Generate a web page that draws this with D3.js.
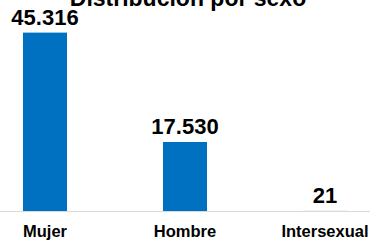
<!DOCTYPE html>
<html>
<head>
<meta charset="utf-8">
<script src="https://cdn.jsdelivr.net/npm/d3@7"></script>
<style>
  body { margin: 0; background: #fff; }
  text { font-family: "Liberation Sans", Arial, sans-serif; font-weight: bold; fill: #000; }
</style>
</head>
<body>
<svg id="chart" width="370" height="242"></svg>
<script>
// data
var categories = ["Mujer", "Hombre", "Intersexual"];
var values = [45316, 17530, 21];
var valueLabels = ["45.316", "17.530", "21"];
var title = "Distribución por sexo";

var svg = d3.select("#chart");
var baseY = 211;

var x = d3.scaleBand()
    .domain(categories)
    .range([-25, 395])
    .paddingInner(0.6857)
    .paddingOuter(0.3429);

var y = d3.scaleLinear()
    .domain([0, 53600])
    .range([baseY, 0]);

// title (partly cut off at top)
svg.append("text")
    .attr("x", 188)
    .attr("y", 6)
    .attr("text-anchor", "middle")
    .style("font-size", "23px")
    .text(title);

// bars
svg.selectAll("rect.bar")
    .data(values)
    .enter()
    .append("rect")
    .attr("class", "bar")
    .attr("x", function (d, i) { return x(categories[i]); })
    .attr("y", function (d) { return y(d); })
    .attr("width", x.bandwidth())
    .attr("height", function (d) { return baseY - y(d); })
    .attr("fill", "#0070C0");

// value labels
svg.selectAll("text.val")
    .data(values)
    .enter()
    .append("text")
    .attr("class", "val")
    .attr("x", function (d, i) { return x(categories[i]) + x.bandwidth() / 2; })
    .attr("y", function (d) { return y(d) - 8; })
    .attr("text-anchor", "middle")
    .style("font-size", "22px")
    .text(function (d, i) { return valueLabels[i]; });

// baseline
svg.append("line")
    .attr("x1", 0)
    .attr("x2", 370)
    .attr("y1", baseY + 0.5)
    .attr("y2", baseY + 0.5)
    .attr("stroke", "#d9d9d9")
    .attr("stroke-width", 1);

// category labels
svg.selectAll("text.cat")
    .data(categories)
    .enter()
    .append("text")
    .attr("class", "cat")
    .attr("x", function (d) { return x(d) + x.bandwidth() / 2; })
    .attr("y", 237)
    .attr("text-anchor", "middle")
    .style("font-size", "16.5px")
    .text(function (d) { return d; });
</script>
</body>
</html>
